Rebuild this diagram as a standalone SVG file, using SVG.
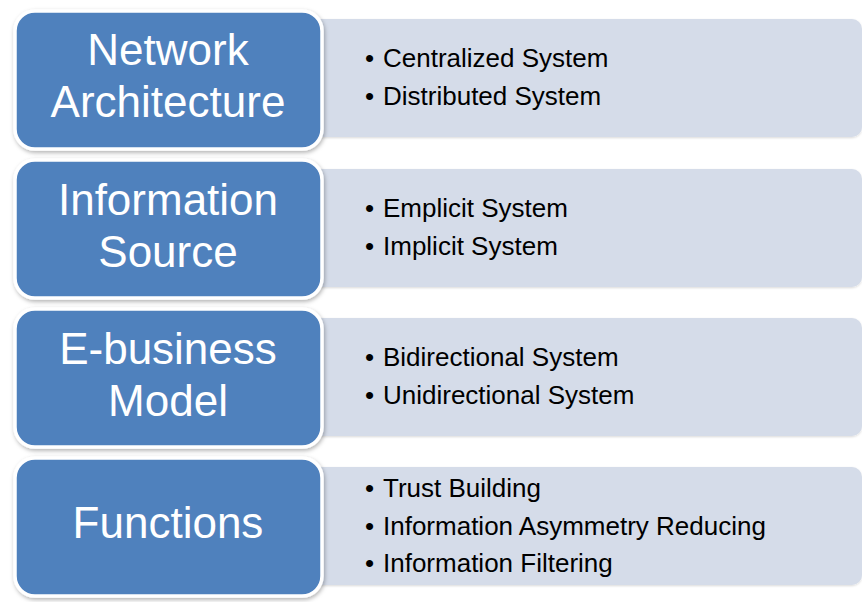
<svg xmlns="http://www.w3.org/2000/svg" width="862" height="602" viewBox="0 0 862 602">
<defs>
<filter id="sh" x="-10%" y="-10%" width="120%" height="130%">
<feDropShadow dx="1" dy="2" stdDeviation="2" flood-color="#000" flood-opacity="0.3"/>
</filter>
<filter id="sh2" x="-5%" y="-10%" width="110%" height="130%">
<feDropShadow dx="0" dy="1" stdDeviation="1" flood-color="#000" flood-opacity="0.15"/>
</filter>
</defs>
<style>
.lt{fill:#D5DCE9;filter:url(#sh2)}
.bl{fill:#4F81BD;stroke:#fff;stroke-width:3.5;filter:url(#sh)}
.tt{font-family:"Liberation Sans",Arial,sans-serif;font-size:44px;fill:#fff;text-anchor:middle}
.it{font-family:"Liberation Sans",Arial,sans-serif;font-size:26px;fill:#000}
</style>
<rect width="862" height="602" fill="#fff"/>
<g id="connectors"/>
<g id="row1">
<rect class="lt" x="300" y="19" width="562" height="118" rx="10"/>
<rect class="bl" x="15" y="11" width="307" height="138" rx="20"/>
<text class="tt" x="168" y="65">Network</text>
<text class="tt" x="168" y="117">Architecture</text>
<text class="it" y="67"><tspan x="365">•</tspan><tspan x="383">Centralized System</tspan></text>
<text class="it" y="105"><tspan x="365">•</tspan><tspan x="383">Distributed System</tspan></text>
</g>
<g id="row2">
<rect class="lt" x="300" y="169" width="562" height="118" rx="10"/>
<rect class="bl" x="15" y="160" width="307" height="138" rx="20"/>
<text class="tt" x="168" y="215">Information</text>
<text class="tt" x="168" y="267">Source</text>
<text class="it" y="217"><tspan x="365">•</tspan><tspan x="383">Emplicit System</tspan></text>
<text class="it" y="255"><tspan x="365">•</tspan><tspan x="383">Implicit System</tspan></text>
</g>
<g id="row3">
<rect class="lt" x="300" y="318" width="562" height="118" rx="10"/>
<rect class="bl" x="15" y="309" width="307" height="138" rx="20"/>
<text class="tt" x="168" y="364">E-business</text>
<text class="tt" x="168" y="416">Model</text>
<text class="it" y="366"><tspan x="365">•</tspan><tspan x="383">Bidirectional System</tspan></text>
<text class="it" y="404"><tspan x="365">•</tspan><tspan x="383">Unidirectional System</tspan></text>
</g>
<g id="row4">
<rect class="lt" x="300" y="467" width="562" height="118" rx="10"/>
<rect class="bl" x="15" y="458" width="307" height="138" rx="20"/>
<text class="tt" x="168" y="538">Functions</text>
<text class="it" y="497"><tspan x="365">•</tspan><tspan x="383">Trust Building</tspan></text>
<text class="it" y="535"><tspan x="365">•</tspan><tspan x="383">Information Asymmetry Reducing</tspan></text>
<text class="it" y="572"><tspan x="365">•</tspan><tspan x="383">Information Filtering</tspan></text>
</g>
</svg>
